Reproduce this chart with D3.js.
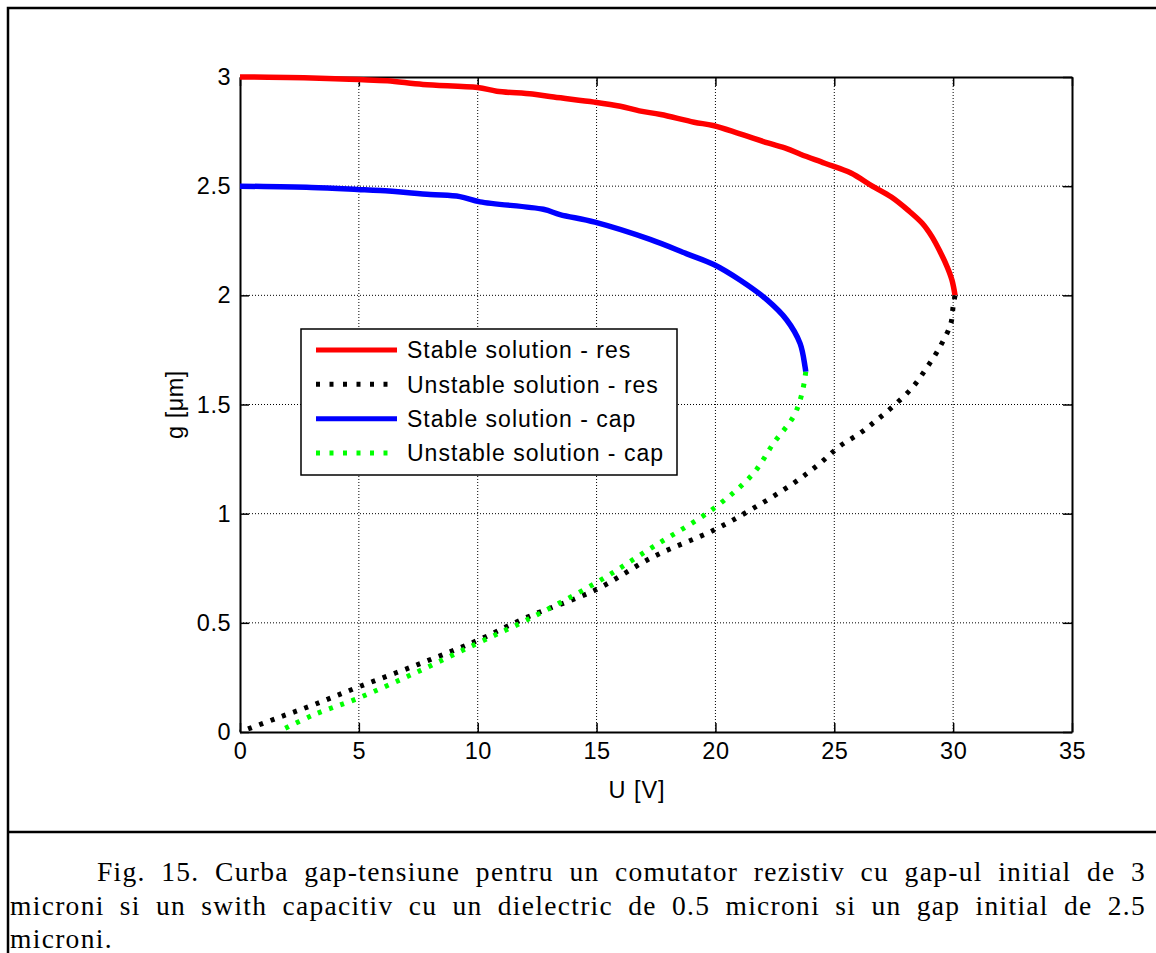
<!DOCTYPE html>
<html>
<head>
<meta charset="utf-8">
<script src="https://cdn.jsdelivr.net/npm/d3@7"></script>
<style>
  body { margin: 0; background: #fff; }
  svg { display: block; }
</style>
</head>
<body>
<div id="chart"></div>
<script>
var width = 1156,
  height = 953;

// axis ticks
var xTicks = [0, 5, 10, 15, 20, 25, 30, 35];
var yTicks = [0, 0.5, 1, 1.5, 2, 2.5, 3];
var yTickLabels = ["0", "0.5", "1", "1.5", "2", "2.5", "3"];

// [U (V), g (um)]
var resStable = [
  [0, 3.0], [2, 2.998], [4, 2.992], [5, 2.988], [6.2, 2.983], [7.7, 2.966],
  [10, 2.952], [10.8, 2.935], [12.3, 2.922], [13.2, 2.908], [14.9, 2.885],
  [16, 2.866], [16.8, 2.845], [17.7, 2.828], [19.1, 2.793], [19.9, 2.778],
  [21, 2.741], [22.2, 2.698], [23, 2.672], [23.6, 2.645], [24.6, 2.605],
  [25.7, 2.56], [26.6, 2.5], [27.4, 2.45], [28.1, 2.39], [28.7, 2.33],
  [29.1, 2.27], [29.45, 2.2], [29.75, 2.13], [29.95, 2.07], [30.08, 2.0]
];
var resUnstable = [
  [30.08, 2.0], [30.0, 1.95], [29.9, 1.87], [29.45, 1.765], [28.9, 1.67],
  [28.3, 1.58], [27.56, 1.5], [26.8, 1.43], [26.1, 1.37], [25.24, 1.31],
  [24.4, 1.231], [23.28, 1.139], [21.6, 1.025], [19.94, 0.925], [17.39, 0.803],
  [14.94, 0.65], [12.06, 0.525], [9.96, 0.418], [7.5, 0.31], [4.95, 0.205],
  [3.08, 0.124], [1.54, 0.063], [0, 0]
];
var capStable = [
  [0, 2.5], [3, 2.494], [4.95, 2.485], [5.9, 2.48], [8, 2.462], [9.25, 2.452],
  [10.1, 2.428], [12.76, 2.394], [13.46, 2.37], [14.93, 2.335], [17.25, 2.256],
  [18.8, 2.19], [19.95, 2.14], [21.03, 2.07], [22.16, 1.98], [23.0, 1.887],
  [23.56, 1.78], [23.77, 1.673], [23.8, 1.65]
];
var capUnstable = [
  [23.8, 1.65], [23.73, 1.597], [23.56, 1.52], [23.28, 1.444], [22.44, 1.322],
  [21.6, 1.185], [19.94, 1.025], [17.39, 0.849], [14.94, 0.681], [12.06, 0.513],
  [9.96, 0.405], [7.5, 0.277], [4.95, 0.154], [3.08, 0.078], [1.6, 0]
];

var seriesNames = [
  "Stable solution - res",
  "Unstable solution - res",
  "Stable solution - cap",
  "Unstable solution - cap"
];
var seriesColors = ["#ff0000", "#000000", "#0000ff", "#00ff00"];
var seriesData = [resStable, resUnstable, capStable, capUnstable];
var seriesDotted = [false, true, false, true];

var captionLines = [
  "Fig. 15. Curba gap-tensiune pentru un comutator rezistiv cu gap-ul initial de 3",
  "microni si un swith capacitiv cu un dielectric de 0.5 microni si un gap initial de 2.5",
  "microni."
];

var plotLeft = 240, plotRight = 1072, plotTop = 77, plotBottom = 732;

var svg = d3
  .select("#chart")
  .append("svg")
  .attr("width", width)
  .attr("height", height);

// outer frame of the figure
svg.append("rect")
  .attr("x", 8).attr("y", 8)
  .attr("width", width + 10).attr("height", height + 10)
  .attr("fill", "none").attr("stroke", "black").attr("stroke-width", 2.5);
svg.append("line")
  .attr("x1", 8).attr("x2", width).attr("y1", 832).attr("y2", 832)
  .attr("stroke", "black").attr("stroke-width", 2.5);

var x = d3.scaleLinear().domain([0, 35]).range([plotLeft, plotRight]);
var y = d3.scaleLinear().domain([0, 3]).range([plotBottom, plotTop]);

// grid
var grid = svg.append("g")
  .attr("stroke", "black").attr("stroke-width", 1)
  .attr("stroke-dasharray", "1,2");
grid.selectAll(".gx").data(xTicks.slice(1, -1)).enter().append("line")
  .attr("x1", d => x(d)).attr("x2", d => x(d))
  .attr("y1", plotTop).attr("y2", plotBottom);
grid.selectAll(".gy").data(yTicks.slice(1, -1)).enter().append("line")
  .attr("y1", d => y(d)).attr("y2", d => y(d))
  .attr("x1", plotLeft).attr("x2", plotRight);

// axes (box with inward ticks)
var font = "'Liberation Sans', Arial, sans-serif";
function styleAxis(g) {
  g.select(".domain").attr("stroke", "black").attr("stroke-width", 2);
  g.selectAll(".tick line").attr("stroke", "black").attr("stroke-width", 1.5);
  g.selectAll(".tick text").attr("fill", "black")
    .style("font-family", font).style("font-size", "23.5px")
    .style("letter-spacing", "0.5px");
}
svg.append("g")
  .attr("transform", "translate(0," + plotBottom + ")")
  .call(d3.axisBottom(x).tickValues(xTicks).tickSizeInner(-9).tickSizeOuter(0).tickPadding(10))
  .call(styleAxis);
svg.append("g")
  .attr("transform", "translate(0," + plotTop + ")")
  .call(d3.axisTop(x).tickValues(xTicks).tickSizeInner(-9).tickSizeOuter(0).tickFormat(""))
  .call(styleAxis);
svg.append("g")
  .attr("transform", "translate(" + plotLeft + ",0)")
  .call(d3.axisLeft(y).tickValues(yTicks).tickSizeInner(-9).tickSizeOuter(0).tickPadding(9)
    .tickFormat((d, i) => yTickLabels[i]))
  .call(styleAxis);
svg.append("g")
  .attr("transform", "translate(" + plotRight + ",0)")
  .call(d3.axisRight(y).tickValues(yTicks).tickSizeInner(-9).tickSizeOuter(0).tickFormat(""))
  .call(styleAxis);

// curves
var line = d3.line()
  .x(d => x(d[0]))
  .y(d => y(d[1]))
  .curve(d3.curveCatmullRom.alpha(0.5));

seriesData.forEach(function (data, i) {
  svg.append("path")
    .datum(data)
    .attr("d", line)
    .attr("fill", "none")
    .attr("stroke", seriesColors[i])
    .attr("stroke-width", seriesDotted[i] ? 5 : 5.5)
    .attr("stroke-dasharray", seriesDotted[i] ? "4,8" : null);
});

// axis labels
svg.append("text")
  .attr("x", 637).attr("y", 798)
  .attr("text-anchor", "middle")
  .style("font-family", font).style("font-size", "23.5px")
  .style("letter-spacing", "1px")
  .text("U [V]");
svg.append("text")
  .attr("transform", "translate(183," + (plotTop + plotBottom) / 2 + ") rotate(-90)")
  .attr("text-anchor", "middle")
  .style("font-family", font).style("font-size", "23.5px")
  .style("letter-spacing", "0.5px")
  .text("g [\u03bcm]");

// legend
var legend = svg.append("g");
legend.append("rect")
  .attr("x", 301).attr("y", 329).attr("width", 376).attr("height", 146)
  .attr("fill", "white").attr("stroke", "black").attr("stroke-width", 1.5);
var rowY = d3.scalePoint().domain(seriesNames).range([350, 453]);
seriesNames.forEach(function (name, i) {
  legend.append("line")
    .attr("x1", 316).attr("x2", 397)
    .attr("y1", rowY(name)).attr("y2", rowY(name))
    .attr("stroke", seriesColors[i])
    .attr("stroke-width", 5)
    .attr("stroke-dasharray", seriesDotted[i] ? "4,9.5" : null);
  legend.append("text")
    .attr("x", 407).attr("y", rowY(name)).attr("dy", "0.36em")
    .style("font-family", font).style("font-size", "23px")
    .style("letter-spacing", "1px")
    .text(name);
});

// caption, justified like the document
var capStarts = [97, 10, 10];
var capRight = 1146;
captionLines.forEach(function (txt, i) {
  var t = svg.append("text")
    .attr("x", capStarts[i]).attr("y", 881 + 33.5 * i)
    .style("font-family", "'Liberation Serif', 'Times New Roman', serif")
    .style("font-size", "27.5px")
    .style("letter-spacing", "1.3px")
    .text(txt);
  if (i < captionLines.length - 1) {
    var natural = t.node().getComputedTextLength();
    var gaps = txt.split(" ").length - 1;
    var extra = Math.max(0, (capRight - capStarts[i] - natural) / gaps);
    t.style("word-spacing", extra + "px");
  }
});
</script>
</body>
</html>
